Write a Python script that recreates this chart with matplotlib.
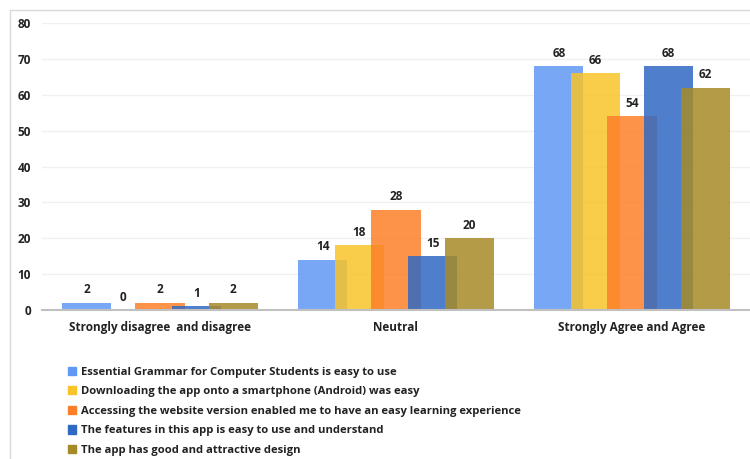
import matplotlib.pyplot as plt
import matplotlib.patches as mpatches
import numpy as np

categories = ['Strongly disagree  and disagree', 'Neutral', 'Strongly Agree and Agree']
series_names = [
    'Essential Grammar for Computer Students is easy to use',
    'Downloading the app onto a smartphone (Android) was easy',
    'Accessing the website version enabled me to have an easy learning experience',
    'The features in this app is easy to use and understand',
    'The app has good and attractive design',
]
grammar_easy = [2, 14, 68]
download_easy = [0, 18, 66]
website_easy = [2, 28, 54]
features_easy = [1, 15, 68]
design_good = [2, 20, 62]
all_series = [grammar_easy, download_easy, website_easy, features_easy, design_good]
colors = ['#6099f4', '#f8c42a', '#fd8028', '#3069c3', '#a68a28']


def main():
  plt.rcParams['font.family'] = ['Open Sans', 'DejaVu Sans']
  fig = plt.figure(figsize=(7.5, 4.59), dpi=100)
  ax = fig.add_axes([42 / 750, 1 - 310 / 459, 1 - 42 / 750, (310 - 23) / 459])

  x = np.arange(len(categories))
  step = 0.155
  width = 0.208
  for i, vals in enumerate(all_series):
    pos = x + (i - 2) * step
    ax.bar(pos, vals, width, color=colors[i], alpha=0.85, label=series_names[i], zorder=2 + i)
    for px, v in zip(pos, vals):
      ax.text(px, v + 1.8, str(v), ha='center', va='bottom', fontsize=8.5,
              fontweight='bold', color='#222222', zorder=10)

  ax.set_xlim(-0.5, 2.5)
  ax.set_ylim(0, 80)
  ax.set_yticks(range(0, 81, 10))
  ax.set_xticks(x)
  ax.set_xticklabels(categories)
  ax.tick_params(length=0, labelsize=8.5, colors='#222222')
  ax.tick_params(axis='x', pad=8)
  ax.tick_params(axis='y', pad=8)
  for lab in ax.get_xticklabels() + ax.get_yticklabels():
    lab.set_fontweight('bold')
  ax.grid(axis='y', color='#f0f0f0', linewidth=1, zorder=0)
  for s in ['top', 'right', 'left']:
    ax.spines[s].set_visible(False)
  ax.spines['bottom'].set_color('#c0c0c0')
  ax.spines['bottom'].set_linewidth(1.5)
  ax.spines['bottom'].set_zorder(20)

  # light frame round the chart area
  frame = mpatches.Rectangle((10 / 750, -0.2), 1.2, 1.2 - 10 / 459,
                             transform=fig.transFigure, fill=False,
                             edgecolor='#d9d9d9', linewidth=1)
  fig.patches.append(frame)

  handles = [mpatches.Patch(color=c) for c in colors]
  leg = fig.legend(handles, series_names, loc='upper left',
                   bbox_to_anchor=(62 / 750, 1 - 361 / 459), frameon=False,
                   fontsize=8.1, handlelength=0.75, handleheight=0.75,
                   handletextpad=0.45, labelspacing=0.76, borderpad=0)
  for t in leg.get_texts():
    t.set_fontweight('bold')
    t.set_color('#222222')

  fig.savefig('out.png', dpi=100)


if __name__ == '__main__':
  main()
